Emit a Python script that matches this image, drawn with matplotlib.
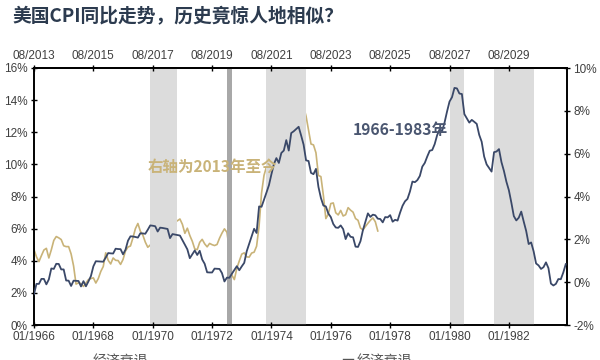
import matplotlib
matplotlib.use("Agg")
import matplotlib.pyplot as plt
from matplotlib import font_manager
import numpy as np

# ---------------- data ----------------
# US CPI YoY (%), monthly, Jan 1966 - Dec 1983 (left axis, bottom x-axis)
cpi_1966_1983 = [
    1.92, 2.56, 2.56, 2.87, 2.87, 2.53, 2.84, 3.52, 3.49, 3.81, 3.80, 3.46,
    3.46, 2.77, 2.76, 2.43, 2.76, 2.75, 2.74, 2.40, 2.73, 2.41, 2.71, 3.04,
    3.65, 3.97, 3.96, 3.95, 3.94, 4.20, 4.48, 4.46, 4.45, 4.75, 4.73, 4.72,
    4.40, 4.69, 5.25, 5.52, 5.51, 5.48, 5.44, 5.71, 5.70, 5.68, 5.93, 6.20,
    6.18, 6.15, 5.82, 6.06, 6.04, 6.01, 5.98, 5.41, 5.66, 5.63, 5.60, 5.57,
    5.29, 5.00, 4.71, 4.16, 4.40, 4.64, 4.36, 4.62, 4.08, 3.81, 3.28, 3.27,
    3.27, 3.51, 3.50, 3.49, 3.23, 2.71, 2.95, 2.94, 3.19, 3.42, 3.66, 3.41,
    3.65, 3.87, 4.59, 5.06, 5.53, 5.99, 5.73, 7.38, 7.36, 7.80, 8.25, 8.71,
    9.39, 10.02, 10.39, 10.09, 10.71, 10.86, 11.51, 10.86, 11.95, 12.06, 12.20, 12.34,
    11.80, 11.23, 10.25, 10.21, 9.47, 9.39, 9.72, 8.60, 7.91, 7.44, 7.38, 6.94,
    6.72, 6.29, 6.07, 6.05, 6.20, 5.97, 5.35, 5.71, 5.49, 5.46, 4.88, 4.86,
    5.22, 5.91, 6.44, 6.95, 6.73, 6.87, 6.83, 6.62, 6.60, 6.39, 6.72, 6.70,
    6.84, 6.43, 6.55, 6.50, 6.99, 7.42, 7.70, 7.85, 8.31, 8.93, 8.89, 9.02,
    9.28, 9.86, 10.09, 10.49, 10.85, 10.89, 11.26, 11.82, 12.18, 12.07, 12.61, 13.29,
    13.91, 14.18, 14.76, 14.73, 14.41, 14.38, 13.13, 12.87, 12.60, 12.77, 12.65, 12.52,
    11.84, 11.41, 10.49, 10.00, 9.78, 9.55, 10.76, 10.80, 10.95, 10.14, 9.59, 8.92,
    8.39, 7.62, 6.78, 6.51, 6.68, 7.06, 6.44, 5.85, 5.04, 5.14, 4.59, 3.83,
    3.71, 3.49, 3.60, 3.90, 3.54, 2.58, 2.46, 2.56, 2.86, 2.85, 3.27, 3.79,
]
# US CPI YoY (%), monthly, Aug 2013 - Mar 2025 (right axis, top x-axis)
cpi_2013_now = [
    1.52, 1.18, 0.96, 1.24, 1.50,
    1.58, 1.13, 1.51, 1.95, 2.13, 2.07, 1.99, 1.70, 1.66, 1.66, 1.32, 0.76,
    -0.09, -0.03, -0.07, -0.20, -0.04, 0.12, 0.17, 0.20, -0.04, 0.17, 0.50, 0.73,
    1.37, 1.02, 0.85, 1.13, 1.02, 1.01, 0.83, 1.06, 1.46, 1.64, 1.69, 2.07,
    2.50, 2.74, 2.38, 2.20, 1.87, 1.63, 1.73, 1.94, 2.23, 2.04, 2.20, 2.11,
    2.07, 2.21, 2.36, 2.46, 2.80, 2.87, 2.95, 2.70, 2.28, 2.52, 2.18, 1.91,
    1.55, 1.52, 1.86, 2.00, 1.79, 1.65, 1.81, 1.75, 1.71, 1.76, 2.05, 2.29,
    2.49, 2.33, 1.54, 0.33, 0.12, 0.65, 0.99, 1.31, 1.37, 1.18, 1.17, 1.36,
    1.40, 1.68, 2.62, 4.16, 4.99, 5.39, 5.37, 5.25, 5.39, 6.22, 6.81, 7.04,
    7.48, 7.87, 8.54, 8.26, 8.58, 9.06, 8.52, 8.26, 8.20, 7.75, 7.11, 6.45,
    6.41, 6.04, 4.98, 4.93, 4.05, 2.97, 3.18, 3.67, 3.70, 3.24, 3.14, 3.35,
    3.09, 3.15, 3.48, 3.36, 3.27, 2.97, 2.89, 2.53, 2.44, 2.60, 2.75, 2.89,
    3.00, 2.82, 2.39,
]
old_start = (1966, 1)
new_start = (2013, 8)

# recessions (year, month) start/end
recessions_old = [((1969, 12), (1970, 11)), ((1973, 11), (1975, 3)),
                  ((1980, 1), (1980, 7)), ((1981, 7), (1982, 11))]
recessions_new = [((2020, 2), (2020, 4))]

bottom_labels = ["01/1966", "01/1968", "01/1970", "01/1972", "01/1974",
                 "01/1976", "01/1978", "01/1980", "01/1982"]
top_labels = ["08/2013", "08/2015", "08/2017", "08/2019", "08/2021",
              "08/2023", "08/2025", "08/2027", "08/2029"]
left_ticks = [0, 2, 4, 6, 8, 10, 12, 14, 16]
right_ticks = [-2, 0, 2, 4, 6, 8, 10]

title = "美国CPI同比走势，历史竟惊人地相似？"
label_old = "1966-1983年"
label_new = "右轴为2013年至今"
legend_label = "经济衰退"


def midx(ym, start):
    return (ym[0] - start[0]) * 12 + (ym[1] - start[1])


# ---------------- plot ----------------
available = {f.name for f in font_manager.fontManager.ttflist}
tick_font = 'Liberation Sans Narrow' if 'Liberation Sans Narrow' in available else 'Liberation Sans'
tick_size = 10 if tick_font == 'Liberation Sans Narrow' else 8.5
plt.rcParams['font.family'] = [tick_font, 'Noto Sans CJK SC', 'DejaVu Sans']
cjk = ['Noto Sans CJK SC', 'DejaVu Sans']

navy = '#3a4868'
gold = '#c9b378'
tick_color = '#404040'

fig = plt.figure(figsize=(6, 3.6), dpi=100)
ax = fig.add_axes([34 / 600, 1 - 325 / 360, (567 - 34) / 600, (325 - 68) / 360])

for s, e in recessions_old:
    ax.axvspan(midx(s, old_start), midx(e, old_start), color='#dcdcdc', lw=0, zorder=0)
for s, e in recessions_new:
    ax.axvspan(midx(s, new_start), midx(e, new_start), color='#a8a8a8', lw=0, zorder=0)

x_old = np.arange(len(cpi_1966_1983))
ax.plot(x_old, cpi_1966_1983, color=navy, lw=1.3, zorder=3)
ax.set_xlim(0, 215.5)
ax.set_ylim(0, 16)
ax.set_yticks(left_ticks)
ax.set_yticklabels([f"{v}%" for v in left_ticks])
ax.set_xticks(np.arange(len(bottom_labels)) * 24)
ax.set_xticklabels(bottom_labels)

ax2 = ax.twinx()
x_new = np.arange(len(cpi_2013_now))
ax2.plot(x_new, cpi_2013_now, color=gold, lw=1.2, zorder=2)
ax2.set_ylim(-2, 10)
ax2.set_yticks(right_ticks)
ax2.set_yticklabels([f"{v}%" for v in right_ticks])
ax2.set_xlim(0, 215.5)
ax.set_zorder(ax2.get_zorder() + 1)
ax.patch.set_visible(False)

sec = ax.secondary_xaxis('top')
sec.set_xticks(np.arange(len(top_labels)) * 24)
sec.set_xticklabels(top_labels)

for a in (ax, ax2, sec):
    for sp in a.spines.values():
        sp.set_color('black')
        sp.set_linewidth(1.2)

kw = dict(direction='inout', length=5, width=1, colors='black',
          labelcolor=tick_color, labelsize=tick_size, pad=2)
ax.tick_params(axis='both', **kw)
ax2.tick_params(axis='y', **kw)
sec.tick_params(axis='x', **kw)

ax.text(129, 12.15, label_old, family=cjk, fontsize=11.3, fontweight='bold',
        color='#4a5670', ha='left', va='center', zorder=5)
ax.text(46, 9.85, label_new, family=cjk, fontsize=11.2, fontweight='bold',
        color=gold, ha='left', va='center', zorder=5)

fig.text(12 / 600, 1 - 17 / 360, title, family=cjk, fontsize=13.5, fontweight='bold',
         color='#2c3b4f', ha='left', va='center')

fig.text(93 / 600, 1 - 354 / 360, legend_label, family=cjk, fontsize=10,
         color='#555555', ha='left', va='top')
fig.lines.append(plt.Line2D([343 / 600, 353 / 600], [1 - 359 / 360, 1 - 359 / 360],
                            transform=fig.transFigure, color='#555555', lw=1))
fig.text(357 / 600, 1 - 354 / 360, legend_label, family=cjk, fontsize=10,
         color='#555555', ha='left', va='top')

fig.savefig('out.png', dpi=100)
